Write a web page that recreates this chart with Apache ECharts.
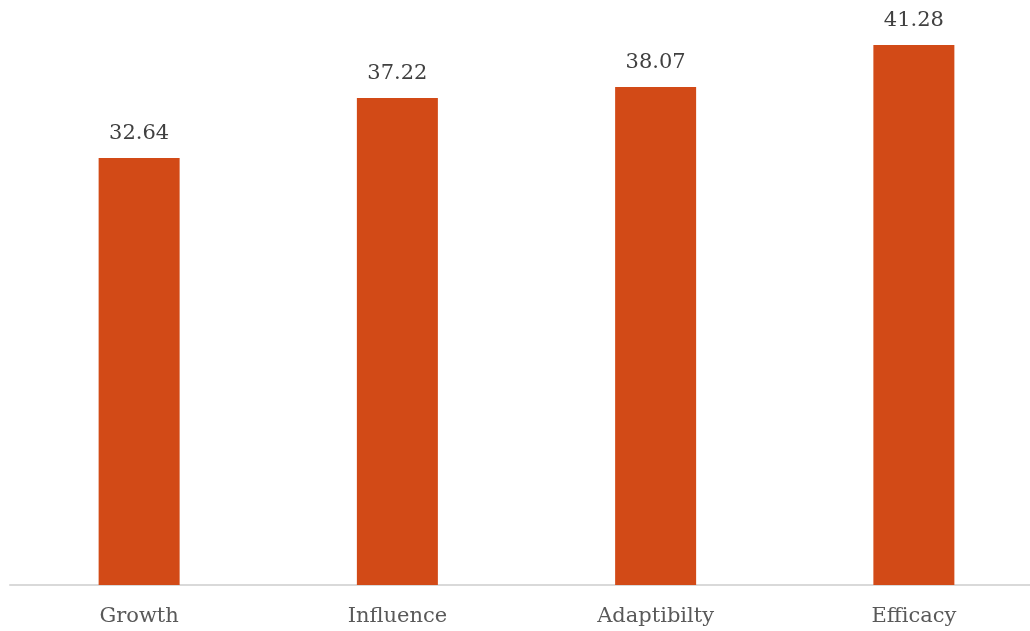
<!DOCTYPE html>
<html>
<head>
<meta charset="utf-8">
<style>
  html, body { margin: 0; padding: 0; background: #ffffff; overflow: hidden; }
  #wrap { width: 1030px; height: 631px; overflow: hidden; }
  /* plot runs past the right edge so the last band is cut off by the frame */
  #chart { width: 1043px; height: 631px; }
</style>
<script src="https://cdn.jsdelivr.net/npm/echarts@6/dist/echarts.min.js"></script>
</head>
<body>
<div id="wrap"><div id="chart"></div></div>
<script>
const categories = ['Growth', 'Influence', 'Adaptibilty', 'Efficacy'];
const scores = [32.64, 37.22, 38.07, 41.28];

const fontFamily = '"DejaVu Serif", "Liberation Serif", serif';

const chart = echarts.init(document.getElementById('chart'), null, { renderer: 'canvas' });
chart.setOption({
  animation: false,
  backgroundColor: '#ffffff',
  grid: { left: 10, right: 0, top: 0, bottom: 46, containLabel: false },
  xAxis: {
    type: 'category',
    data: categories,
    axisLine: { show: true, lineStyle: { color: '#d9d9d9', width: 2 } },
    axisTick: { show: false },
    axisLabel: { color: '#595959', fontSize: 21, fontFamily: fontFamily, margin: 21 }
  },
  yAxis: {
    type: 'value',
    min: 0,
    max: 44.72,
    show: false,
    splitLine: { show: false }
  },
  series: [{
    type: 'bar',
    data: scores,
    barWidth: 81,
    itemStyle: { color: '#d24a17' },
    label: {
      show: true,
      position: 'top',
      distance: 14,
      color: '#404040',
      fontSize: 21,
      fontFamily: fontFamily,
      formatter: p => p.value.toFixed(2)
    }
  }]
});
</script>
</body>
</html>
